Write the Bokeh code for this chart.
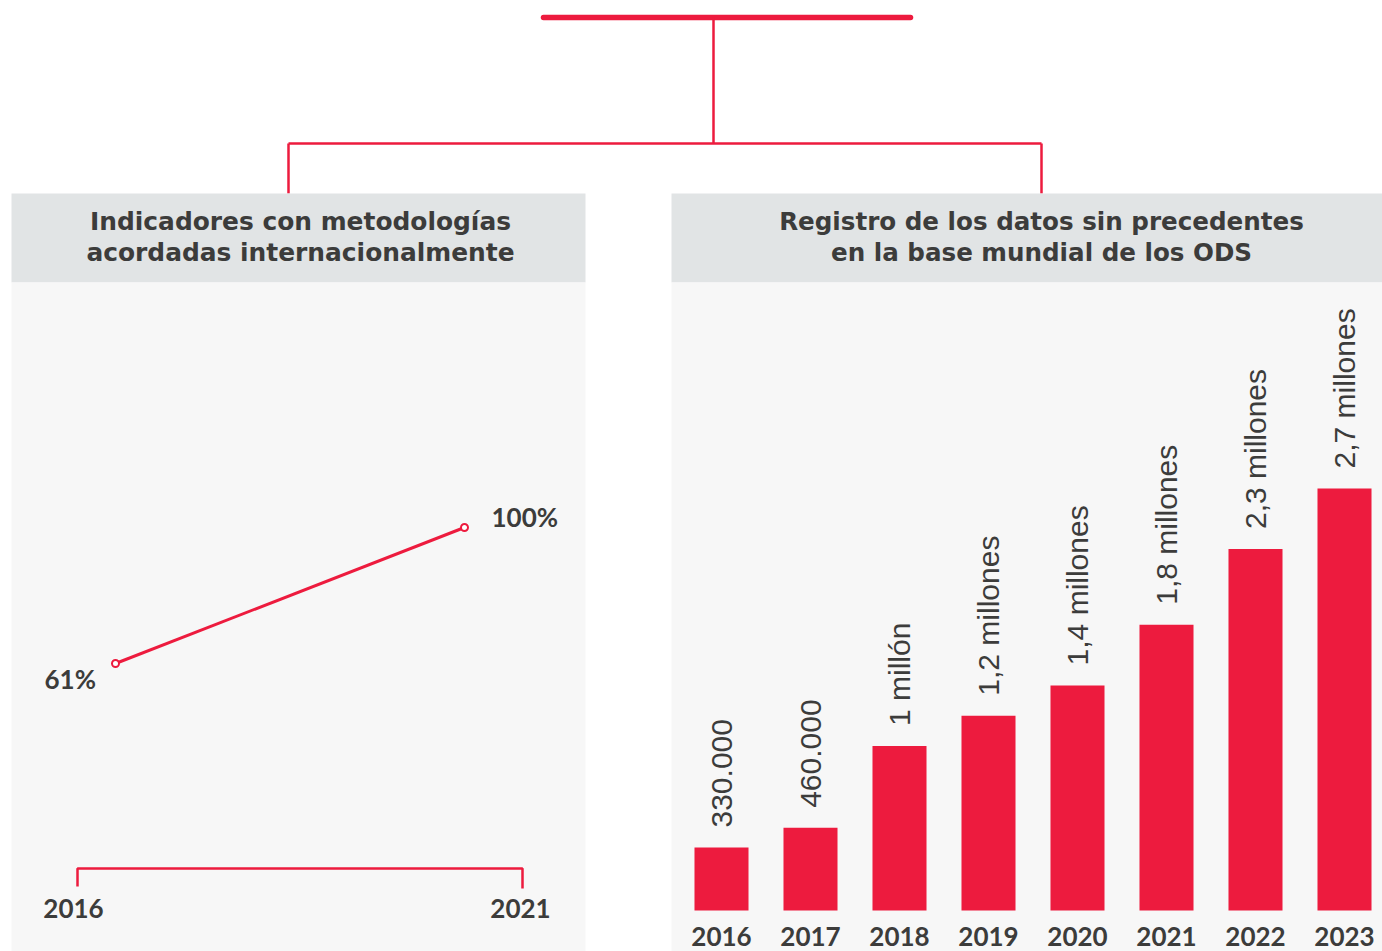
import math
from bokeh.plotting import figure
from bokeh.models import Range1d, ColumnDataSource
from bokeh.core.properties import value
from bokeh.embed import file_html
from bokeh.resources import INLINE

# ---------------- data ----------------
line_years = [2016, 2021]
line_values = [61, 100]
line_labels = ["61%", "100%"]

bar_years = [2016, 2017, 2018, 2019, 2020, 2021, 2022, 2023]
bar_values = [0.33, 0.46, 1.0, 1.2, 1.4, 1.8, 2.3, 2.7]  # millones de registros
bar_labels = ["330.000", "460.000", "1 millón", "1,2 millones", "1,4 millones",
              "1,8 millones", "2,3 millones", "2,7 millones"]
bar_year_labels = [str(y) for y in bar_years]

left_title = ["Indicadores con metodologías", "acordadas internacionalmente"]
right_title = ["Registro de los datos sin precedentes", "en la base mundial de los ODS"]

# ---------------- styles / layout ----------------
RED = "#ED1B3E"
TEXT = "#3C3C3B"
HEAD_BG = "#E1E4E5"
BODY_BG = "#F7F7F7"
TITLE_FONT = "DejaVu Sans"
BOLD_FONT = "Lato"
REG_FONT = "Liberation Sans"

REF_W, REF_H = 1382, 951          # design space (= page size)
W, H = 1382, 951


def fit_x(v1, r1, v2, r2):
    k = (v2 - v1) / (r2 - r1)
    return Range1d(start=v1 + (0 - r1) * k, end=v1 + (REF_W - r1) * k)


def fit_y(v1, r1, v2, r2):
    k = (v2 - v1) / (r2 - r1)
    return Range1d(start=v1 + (REF_H - r1) * k, end=v1 + (0 - r1) * k)


p = figure(width=W, height=H, x_range=Range1d(0, REF_W), y_range=Range1d(REF_H, 0),
           output_backend="svg", toolbar_location=None, min_border=0,
           x_axis_location=None, y_axis_location=None)
p.grid.visible = False
p.outline_line_color = None
p.background_fill_color = "white"
p.border_fill_color = "white"

# data ranges placed inside the design space
p.extra_x_ranges = {
    "lx": fit_x(2016, 115, 2021, 464),
    "bx": fit_x(2016, 721, 2023, 1344),
}
p.extra_y_ranges = {
    "ly": fit_y(61, 663, 100, 527),
    "by": fit_y(0.0, 897, 1.0, 745.5),
}
BAR_BASE = -0.086
BAR_WIDTH = 0.607

# ---------------- connectors ----------------
p.line([543, 910], [17, 17], line_color=RED, line_width=5.5, line_cap="round")
p.segment(x0=[713, 288, 288, 1041], y0=[17, 143, 143, 143],
          x1=[713, 1041, 288, 1041], y1=[143, 143, 193, 193],
          line_color=RED, line_width=2.5)

# ---------------- panels ----------------
p.quad(left=[11, 671], right=[585, 1382], top=[193, 193], bottom=[282, 282],
       fill_color=HEAD_BG, line_color=None)
p.quad(left=[11, 671], right=[585, 1382], top=[282, 282], bottom=[951, 951],
       fill_color=BODY_BG, line_color=None)

p.text(x=[300, 300], y=[221, 252], text=left_title, text_align="center",
       text_baseline="middle", text_font=value(TITLE_FONT), text_font_style="bold",
       text_font_size="24.9px", text_color=TEXT)
p.text(x=[1041, 1041], y=[221, 252], text=right_title, text_align="center",
       text_baseline="middle", text_font=value(TITLE_FONT), text_font_style="bold",
       text_font_size="24.6px", text_color=TEXT)

# ---------------- left chart: line ----------------
p.line(line_years, line_values, x_range_name="lx", y_range_name="ly",
       line_color=RED, line_width=3)
p.scatter(line_years, line_values, x_range_name="lx", y_range_name="ly",
          marker="circle", size=7, fill_color="white", line_color=RED, line_width=2)

lab_src = ColumnDataSource(dict(x=line_years, y=line_values, t=line_labels,
                                xo=[-71, 27], yo=[15, -11]))
p.text(x="x", y="y", text="t", source=lab_src, x_range_name="lx", y_range_name="ly",
       x_offset="xo", y_offset="yo", text_align="left", text_baseline="middle",
       text_font=value(BOLD_FONT), text_font_style="bold", text_font_size="26px",
       text_color=TEXT)

# bracket-style axis
p.line([77, 77, 522, 522], [886, 868, 868, 888], line_color=RED, line_width=2.5)
p.text(x=[73, 520], y=[908, 908], text=[str(y) for y in line_years],
       text_align="center", text_baseline="middle", text_font=value(BOLD_FONT),
       text_font_style="bold", text_font_size="26px", text_color=TEXT)

# ---------------- right chart: bars ----------------
p.vbar(x=bar_years, top=bar_values, bottom=BAR_BASE, width=BAR_WIDTH,
       x_range_name="bx", y_range_name="by", fill_color=RED, line_color=None)
p.text(x=bar_years, y=bar_values, text=bar_labels, x_range_name="bx", y_range_name="by",
       angle=math.pi / 2, y_offset=-20, text_align="left", text_baseline="middle",
       text_font=value(REG_FONT), text_font_size="30px", text_color=TEXT)
p.text(x=bar_years, y=[935.5] * len(bar_years), text=bar_year_labels, x_range_name="bx",
       text_align="center", text_baseline="middle", text_font=value(BOLD_FONT),
       text_font_style="bold", text_font_size="26px", text_color=TEXT)

open("out.html", "w").write(file_html(p, INLINE))
